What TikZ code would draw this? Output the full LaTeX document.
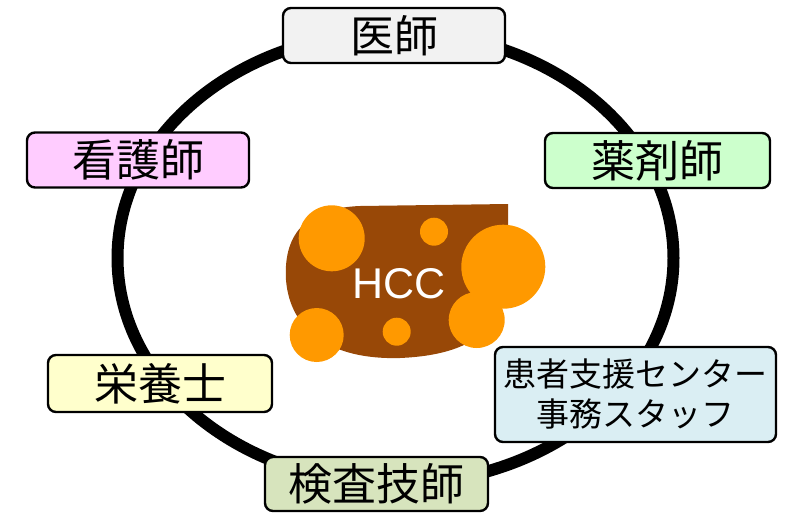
\documentclass[tikz,border=0pt]{standalone}
\usepackage{fontspec}
\setmainfont{Noto Sans CJK JP}
\newfontfamily\latinfont{Liberation Sans}
\usepackage{tikz}
\usetikzlibrary{positioning}

\definecolor{docgray}{HTML}{F2F2F2}
\definecolor{nursepink}{HTML}{FFCCFF}
\definecolor{pharmgreen}{HTML}{CCFFCC}
\definecolor{dietyellow}{HTML}{FFFFCC}
\definecolor{officeblue}{HTML}{DAEEF3}
\definecolor{labolive}{HTML}{D7E4BD}
\definecolor{liverbrown}{HTML}{984807}
\definecolor{tumourorange}{HTML}{FF9900}

\tikzset{
  staff/.style={draw, line width=2.4pt, rounded corners=8pt, inner sep=0pt,
    minimum width=222pt, minimum height=55pt,
    font=\fontsize{44}{48}\selectfont},
  tumour/.style={fill=tumourorange}
}

\begin{document}
\begin{tikzpicture}[x=1pt, y=-1pt]
  \useasboundingbox (0,0) rectangle (787,512);

  % team ring
  \draw[line width=12pt] (395.5,258) ellipse [x radius=278, y radius=226];

  % liver
  \fill[liverbrown] (508,204) -- (508,250)
      .. controls (515,330) and (470,355) .. (400,358)
      .. controls (330,360) and (290,330) .. (286,280)
      .. controls (283,230) and (310,208) .. (360,206) -- cycle;

  % nodules
  \fill[tumour] (331.7,238.3) circle (33);
  \fill[tumour] (434,231.7) circle (14);
  \fill[tumour] (503.3,266.7) circle (42);
  \fill[tumour] (476.7,320) circle (28);
  \fill[tumour] (316.7,335) circle (27);
  \fill[tumour] (396.7,331.7) circle (14);
  \node[text=white, font=\latinfont\fontsize{43}{46}\selectfont] (hcc) at (399,284) {HCC};

  % staff around the ring
  \node[staff, fill=docgray] (doctor) at (394,35.5) {医師};
  \node[staff, fill=nursepink] (nurse) at (138,160) {看護師};
  \node[staff, fill=pharmgreen, minimum width=225pt] (pharmacist) at (657.5,160.5) {薬剤師};
  \node[staff, fill=dietyellow, minimum width=224pt, minimum height=57pt] (dietitian) at (160,383.5) {栄養士};
  \node[staff, fill=officeblue, minimum width=281pt, minimum height=95pt, align=center,
        font=\fontsize{33}{40}\selectfont] (office) at (635.5,394.5) {患者支援センター\\事務スタッフ};
  \node[staff, fill=labolive, minimum width=223pt, minimum height=54pt] (technician) at (376.5,484) {検査技師};
\end{tikzpicture}
\end{document}
